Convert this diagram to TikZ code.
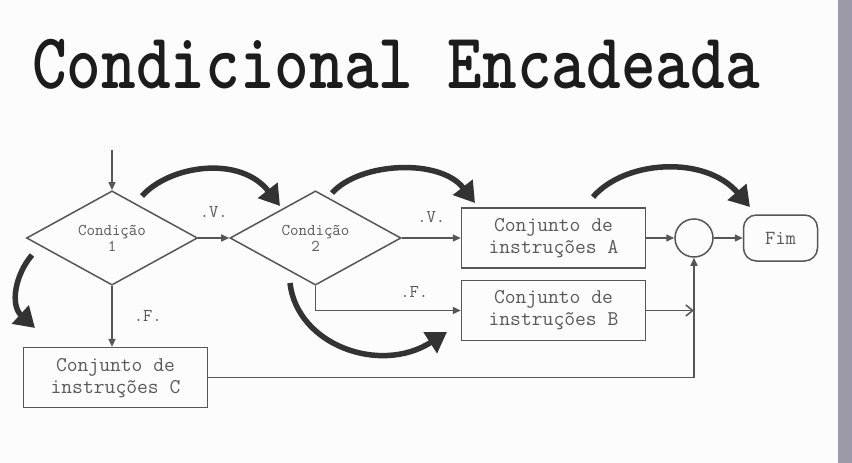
\documentclass[tikz,border=0pt]{standalone}
\usepackage{graphicx}
\usepackage{fontspec}
\usetikzlibrary{arrows.meta, positioning, shapes.geometric}
\definecolor{linegray}{HTML}{565656}
\definecolor{txtgray}{HTML}{5A5A5A}
\definecolor{curvegray}{HTML}{333333}
\definecolor{titlecol}{HTML}{1C1C1C}
\definecolor{sidebar}{HTML}{9C9AAA}

\begin{document}
\begin{tikzpicture}[
  x=1pt, y=-1pt,
  box/.style={draw=linegray, line width=1.5pt, minimum width=184pt, minimum height=60pt,
              inner sep=0pt, align=center, text=txtgray, font=\ttfamily\fontsize{21}{22}\selectfont},
  cond/.style={diamond, draw=linegray, line width=1.5pt, minimum width=171pt, minimum height=77pt,
               inner sep=0pt, align=center, text=txtgray, font=\ttfamily\fontsize{16.5}{16}\selectfont},
  arrow/.style={-{Triangle[length=8pt,width=7pt]}, draw=linegray, line width=1.5pt},
  hintarrow/.style={-{Triangle[length=20pt,width=24pt]}, draw=curvegray, line width=5.5pt},
  lbl/.style={font=\ttfamily\fontsize{18}{18}\selectfont, text=txtgray, inner sep=0pt}
]
\useasboundingbox (0,0) rectangle (852,463);
\fill[gray!2] (0,0) rectangle (852,463);
\fill[sidebar] (838,0) rectangle (852,463);

\node[font=\ttfamily\bfseries\fontsize{66}{68}\selectfont, text=titlecol, anchor=base] (title) at (396,88)
  {\scalebox{1}[1.2]{Condicional Encadeada}};

\coordinate (in) at (112,150);
\node[cond] (c1) at (112,238) {Condição\\1};
\node[cond, right=31pt of c1] (c2) {Condição\\2};
\node[box, right=59pt of c2] (cA) {Conjunto de\\instruções A};
\node[box, below=11pt of cA] (cB) {Conjunto de\\instruções B};
\node[box, below=61pt of c1, xshift=3.5pt] (cC) {Conjunto de\\instruções C};
\node[circle, draw=linegray, line width=1.5pt, minimum size=38pt, inner sep=0pt, right=28pt of cA] (junc) {};
\node[draw=linegray, line width=1.5pt, rounded corners=13pt, minimum width=74pt, minimum height=46pt,
      text=txtgray, font=\ttfamily\fontsize{20}{20}\selectfont, right=29pt of junc] (fim) {Fim};

\draw[arrow] (in) -- (c1);
\draw[arrow] (c1) -- node[lbl, above=20pt]{.V.} (c2);
\draw[arrow] (c1) -- node[lbl, right=21pt]{.F.} (c1 |- cC.north);
\draw[arrow] (c2) -- node[lbl, above=15pt]{.V.} (cA);
\draw[arrow] (c2.south) |- node[lbl, pos=0.84, above=12pt]{.F.} (cB.west);
\draw[arrow] (cA) -- (junc);
\draw[arrow] (junc) -- (fim);
\draw[-{Straight Barb[length=7pt,width=11pt]}, draw=linegray, line width=1.5pt] (cB.east) -- (cB.east -| junc.south);
\draw[arrow] (cC.east) -| (junc.south);

\draw[hintarrow] (142,196) .. controls (170,165) and (240,155) .. (280,206);
\draw[hintarrow] (332,193) .. controls (360,162) and (440,158) .. (475,203);
\draw[hintarrow] (593,197) .. controls (625,160) and (705,155) .. (750,207);
\draw[hintarrow] (32,255) .. controls (15,275) and (10,305) .. (35,328);
\draw[hintarrow] (290,283) .. controls (297,345) and (380,375) .. (447,332);
\end{tikzpicture}
\end{document}
